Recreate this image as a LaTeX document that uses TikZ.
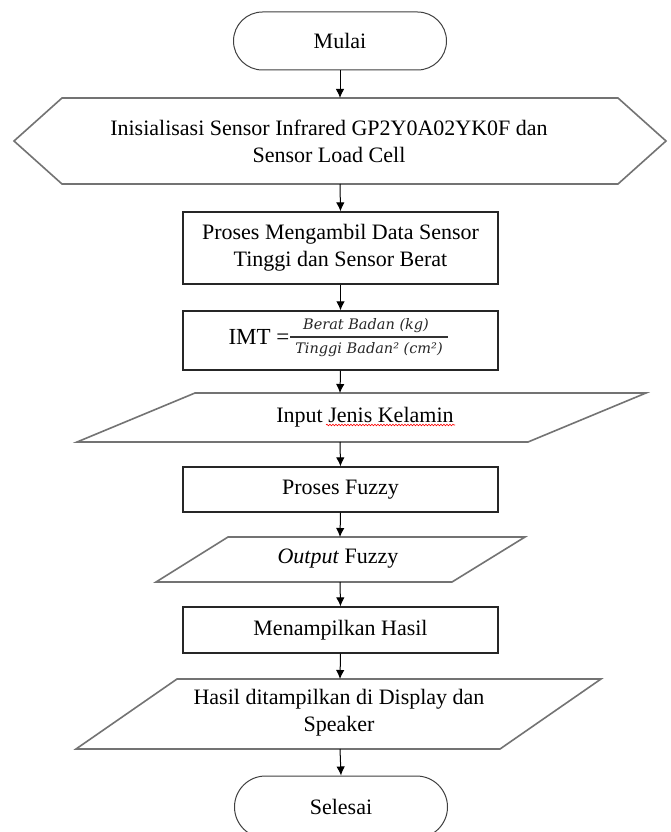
\documentclass[tikz,border=0pt]{standalone}
\usepackage{fontspec}
\setmainfont{Liberation Serif}
\newfontfamily\fracfont{DejaVu Serif}
\usetikzlibrary{shapes.misc,arrows.meta,decorations.pathmorphing}

\begin{document}
\begin{tikzpicture}[x=1pt,y=-1pt,
  every node/.style={font=\fontsize{22}{27}\selectfont, text=black},
  term/.style={draw=black!75, line width=1pt, rounded rectangle, minimum width=213pt, minimum height=58pt, inner sep=0pt},
  procbox/.style={draw=black!85, line width=1.3pt, rectangle, inner sep=0pt, minimum width=315pt, align=center},
  iobox/.style={draw=black!55, line width=1.6pt, line join=miter},
  txt/.style={align=center, inner sep=0pt},
  fractxt/.style={inner sep=0pt, font=\fracfont\itshape\fontsize{14.5}{16}\selectfont, text=black!85},
  arr/.style={-{Latex[length=9pt,width=8.5pt]}, line width=1pt, black}]

\useasboundingbox (0,0) rectangle (670,832);
\fill[white] (0,0) rectangle (670,832);

% Start
\node[term] (mulai) at (340,41) {Mulai};

% Hexagon (preparation)
\draw[iobox] (14,141) -- (62,98) -- (618,98) -- (666,141) -- (618,184) -- (62,184) -- cycle;
\coordinate (hexT) at (340,98);
\coordinate (hexB) at (340,184);
\node[txt] (init) at (329,141) {Inisialisasi Sensor Infrared GP2Y0A02YK0F dan\\Sensor Load Cell};

% Process
\node[procbox, minimum height=72pt] (proses) at (340.5,248) {Proses Mengambil Data Sensor\\Tinggi dan Sensor Berat};

% IMT
\node[procbox, minimum height=59pt] (imt) at (340.5,340.5) {};
\node[inner sep=0pt, anchor=base, font=\fontsize{23}{27}\selectfont] (imtlbl) at (259,344) {IMT =};
\coordinate (fracL) at (290,337);
\coordinate (fracR) at (448,337);
\draw[line width=1.2pt, black!80] (fracL) -- (fracR);
\node[fractxt] (num) at (366,326) {Berat Badan (kg)};
\node[fractxt] (den) at (369,350) {Tinggi Badan² (cm²)};

% Input
\draw[iobox] (77,442) -- (528,442) -- (646,393) -- (195,393) -- cycle;
\coordinate (inT) at (340,393);
\coordinate (inB) at (340,442);
\node[txt] (input) at (365,417) {Input Jenis Kelamin};
\coordinate (sqA) at (326,425);
\coordinate (sqB) at (455,425);
\draw[red, line width=0.6pt, decorate, decoration={snake, amplitude=0.8pt, segment length=3pt}] (sqA) -- (sqB);

% Fuzzy process
\node[procbox, minimum height=45pt] (fuzzy) at (340.5,489.5) {Proses Fuzzy};

% Output
\draw[iobox] (156,582) -- (452,582) -- (525,537) -- (228,537) -- cycle;
\coordinate (outT) at (340,537);
\coordinate (outB) at (340,582);
\node[txt] (output) at (338,559) {\textit{Output} Fuzzy};

% Show result
\node[procbox, minimum height=46pt] (tampil) at (340.5,630) {Menampilkan Hasil};

% Display
\draw[iobox] (76,749) -- (500,749) -- (601,679) -- (177,679) -- cycle;
\coordinate (hasT) at (340,679);
\coordinate (hasB) at (340,749);
\node[txt] (hasil) at (339,712.5) {Hasil ditampilkan di Display dan\\Speaker};

% End
\node[term, minimum height=62pt] (selesai) at (341,807) {Selesai};

% Connectors
\draw[arr] (mulai.south) -- (hexT);
\draw[arr] (hexB) -- (proses.north);
\draw[arr] (proses.south) -- (imt.north);
\draw[arr] (imt.south) -- (inT);
\draw[arr] (inB) -- (fuzzy.north);
\draw[arr] (fuzzy.south) -- (outT);
\draw[arr] (outB) -- (tampil.north);
\draw[arr] (tampil.south) -- (hasT);
\draw[arr] (hasB) -- (selesai.north);
\end{tikzpicture}
\end{document}
